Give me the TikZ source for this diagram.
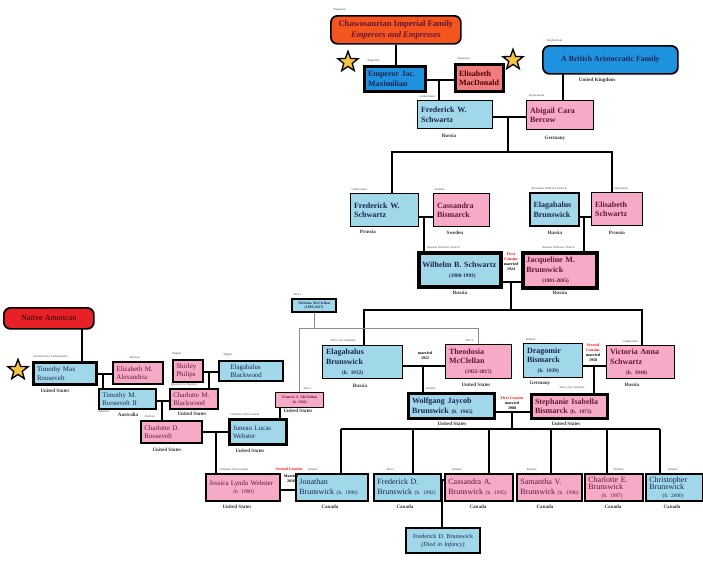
\documentclass[tikz,border=0pt]{standalone}
\usepackage{fontspec}
\setmainfont{Liberation Serif}
\usetikzlibrary{shapes.geometric}

\definecolor{kinblue}{RGB}{160,216,234}
\definecolor{kinpink}{RGB}{246,170,200}
\definecolor{royalblue}{RGB}{30,146,222}
\definecolor{royalred}{RGB}{240,125,125}
\definecolor{houseorange}{RGB}{244,84,30}
\definecolor{nativered}{RGB}{232,32,40}
\definecolor{stargold}{RGB}{246,196,66}
\definecolor{navytext}{RGB}{30,36,80}
\definecolor{maroontext}{RGB}{100,22,56}

\newcommand{\lifespan}[1]{{\fontsize{4}{5}\selectfont #1}}

\tikzset{every picture/.style={line width=0.75pt}}
\tikzset{
  boxsize/.style 2 args={minimum width=#1*0.75pt, minimum height=#2*0.75pt},
  person/.style 2 args={draw, anchor=north west, inner sep=0pt, inner xsep=2.5pt,
    boxsize={#1}{#2}, text width=#1*0.75pt-5pt, align=left, line width=1.1pt,
    font=\fontsize{6}{7.3}\selectfont\bfseries},
  he/.style={fill=kinblue, text=navytext},
  she/.style={fill=kinpink, text=maroontext},
  heavy/.style={line width=2.5pt},
  heaviest/.style={line width=3pt},
  lefty/.style={font=\fontsize{5.2}{6.3}\selectfont, line width=1.5pt},
  young/.style={font=\fontsize{6}{7.3}\selectfont, line width=1.6pt},
  house/.style={draw, rounded corners=5pt, anchor=north west, align=center, inner sep=0pt,
    line width=1.3pt, font=\fontsize{6.4}{7.8}\selectfont\bfseries},
  gold star/.style={star, star points=5, star point ratio=2.4, draw, line width=1pt,
    fill=stargold, minimum size=16pt, inner sep=0pt},
  link/.style={line width=1.5pt},
  kinline/.style={line width=0.6pt, black!45},
  faith/.style={anchor=south west, inner sep=0pt, font=\fontsize{2.3}{2.8}\selectfont, text=black!70},
  country/.style={inner sep=0pt, font=\fontsize{3.8}{4.5}\selectfont\bfseries, text=black!80},
  note/.style={inner sep=0pt, align=center, font=\fontsize{3}{3.8}\selectfont\bfseries}
}

\begin{document}
\begin{tikzpicture}[x=0.75pt,y=0.75pt,yscale=-1,xscale=1]
\useasboundingbox (0,0) rectangle (703,578);

%Shape: Rounded Rect [houses]
\node[house, fill=houseorange, boxsize={130}{28}, text=maroontext] (chaw) at (330,15) {Chawosaurian Imperial Family\\\textit{Emperors and Empresses}};
\node[house, fill=royalblue, boxsize={135}{28}, text=navytext, font=\fontsize{5.9}{7}\selectfont\bfseries] (brit) at (542,45) {A British Aristocratic Family};
\node[house, fill=nativered, boxsize={90}{21}, text=black!85!red, font=\fontsize{6}{7}\selectfont] (native) at (3,307) {Native American};

%Shape: Star
\node[gold star] (star1) at (348,62) {};
\node[gold star] (star2) at (513,60) {};
\node[gold star] (star3) at (18,370) {};

%Shape: Rectangle [generation 0 and 1]
\node[person={61}{25}, he, heavy, fill=royalblue] (emp) at (363,65) {Emperor~Jac.\\Maximilian};
\node[person={48}{27}, she, heavy, fill=royalred, text=black!70!red] (elim) at (454,63) {Elisabeth\\MacDonald};
\node[person={75}{28}, he] (fw1) at (417,100) {Frederick~W.\\Schwartz};
\node[person={67}{29}, she] (abi) at (526,100) {Abigail~Cara\\Bercow};

%Shape: Rectangle [generation 2]
\node[person={68}{33}, he] (fw2) at (350,193) {Frederick~W.\\Schwartz};
\node[person={56}{33}, she] (cas) at (433,193) {Cassandra\\Bismarck};
\node[person={49}{33}, he, line width=1.8pt] (ela1) at (529,192) {Elagabalus\\Brunswick};
\node[person={51}{33}, she] (es) at (591,192) {Elisabeth\\Schwartz};
\node[person={82}{34}, he, heaviest] (wil) at (417,251) {Wilhelm~B.~Schwartz\\\hspace*{20pt}\lifespan{(1900-1993)}};
\node[person={74}{35}, she, heaviest] (jac) at (521,251) {Jacqueline~M.\\Brunswick\\\hspace*{12pt}\lifespan{(1901-2005)}};

%Shape: Rectangle [generation 3]
\node[person={44}{13}, he, line width=1.6pt, align=center, font=\fontsize{2.8}{3.4}\selectfont\bfseries] (nic) at (291,298) {Nicholas~McClellan\\(1899-2017)};
\node[person={80}{33}, he] (ela2) at (322,345) {Elagabalus\\Brunswick\\\hspace*{12pt}\lifespan{(b.~1932)}};
\node[person={66}{34}, she] (theo) at (445,344) {Theodosia\\McClellan\\\hspace*{12pt}\lifespan{(1932-2017)}};
\node[person={59}{34}, he] (dra) at (523,343) {Dragomir\\Bismarck\\\hspace*{8pt}\lifespan{(b.~1939)}};
\node[person={68}{33}, she] (vic) at (606,345) {Victoria~Anna\\Schwartz\\\hspace*{12pt}\lifespan{(b.~1940)}};
\node[person={86}{25}, he, heavy] (wolf) at (407,392) {Wolfgang~Jaycob\\Brunswick~\lifespan{(b.~1965)}};
\node[person={76}{24}, she, heavy] (steph) at (530,393) {Stephanie~Isabella\\Bismarck~\lifespan{(b.~1973)}};
\node[person={48}{15}, she, align=center, font=\fontsize{2.8}{3.4}\selectfont\bfseries] (fra) at (275,392) {Frances~S.~McClellan\\(b.~1930)};

%Shape: Rectangle [left branch]
\node[person={63}{22}, he, lefty, heavy] (tim) at (32,361) {Timothy~Max\\Roosevelt};
\node[person={50}{22}, she, lefty] (eliz) at (112,361) {Elizabeth~M.\\Alexandria};
\node[person={57}{20}, he, lefty] (tim2) at (98,388) {Timothy~M.\\Roosevelt~II};
\node[person={30}{22}, she, lefty] (shi) at (172,359) {Shirley\\Philips};
\node[person={64}{20}, he, lefty] (ebw) at (218,360) {\hspace*{6pt}Elagabalus\\\hspace*{6pt}Blackwood};
\node[person={48}{20}, she, lefty] (chm) at (169,388) {Charlotte~M.\\Blackwood};
\node[person={61}{22}, she, lefty] (chd) at (140,420) {Charlotte~D.\\Roosevelt};
\node[person={57}{25}, he, lefty, heavy] (jun) at (228,418) {Juneau~Lucas\\Webster};
\node[person={74}{27}, she, lefty] (jes) at (205,473) {Jessica~Lynda~Webster\\\hspace*{18pt}\lifespan{(b.~1990)}};

%Shape: Rectangle [generation 4]
\node[person={72}{27}, he, young] (jon) at (295,473) {Jonathan\\Brunswick~\lifespan{(b.~1990)}};
\node[person={67}{27}, he, young] (fd) at (373,473) {Frederick~D.\\Brunswick~\lifespan{(b.~1992)}};
\node[person={68}{27}, she, young] (cas2) at (444,473) {Cassandra~A.\\Brunswick~\lifespan{(b.~1995)}};
\node[person={65}{27}, she, young] (sam) at (516,473) {Samantha~V.\\Brunswick~\lifespan{(b.~1996)}};
\node[person={58}{27}, she, young, font=\fontsize{6}{5.8}\selectfont] (cha) at (584,473) {Charlotte~E.\\Brunswick\\\hspace*{10pt}\lifespan{(b.~1997)}};
\node[person={57}{27}, he, young, font=\fontsize{6}{5.8}\selectfont] (chr) at (645,473) {Christopher\\Brunswick\\\hspace*{10pt}\lifespan{(b.~2000)}};
\node[person={74}{25}, he, young, align=center, font=\fontsize{4.6}{6}\selectfont] (fdi) at (405,527) {Frederick~D.~Brunswick\\\textit{(Died~in~Infancy)}};

%Straight Lines [top]
\draw[link] (chaw.south) -- (chaw.south |- emp.north);
\coordinate (m0) at (439,80);
\draw[link] (emp.east |- m0) -- (elim.west |- m0);
\draw[link] (m0) -- (m0 |- fw1.north);
\coordinate (britdrop) at (563,73);
\draw[link] (britdrop) -- (britdrop |- abi.north);
\coordinate (m1) at (508,117);
\draw[link] (fw1.east |- m1) -- (abi.west |- m1);
\coordinate (bar1l) at (392,152);
\coordinate (bar1r) at (612,152);
\draw[link] (m1) -- (m1 |- bar1l);
\draw[link] (bar1l |- fw2.north) -- (bar1l) -- (bar1r) -- (bar1r |- es.north);

%Straight Lines [generation 2]
\coordinate (m2) at (424,217);
\draw[link] (fw2.east |- m2) -- (cas.west |- m2);
\draw[link] (m2) -- (m2 |- wil.north);
\coordinate (m3) at (584,217);
\draw[link] (ela1.east |- m3) -- (es.west |- m3);
\draw[link] (m3) -- (m3 |- jac.north);
\coordinate (m4) at (511,282);
\coordinate (bar2l) at (364,310);
\coordinate (bar2r) at (642,310);
\draw[link] (wil.east |- m4) -- (jac.west |- m4);
\draw[link] (m4) -- (m4 |- bar2l);
\draw[link] (bar2l |- ela2.north) -- (bar2l) -- (bar2r) -- (bar2r |- vic.north);

%Straight Lines [McClellan]
\coordinate (gl) at (299,328);
\coordinate (gr) at (478,328);
\draw[kinline] (nic.south) -- (nic.south |- gl);
\draw[kinline] (gl |- fra.north) -- (gl) -- (gr) -- (gr |- theo.north);

%Straight Lines [generation 3]
\coordinate (m5) at (423,366);
\draw[link] (ela2.east |- m5) -- (theo.west |- m5);
\draw[link] (m5) -- (m5 |- wolf.north);
\coordinate (m6) at (594,366);
\draw[link] (dra.east |- m6) -- (vic.west |- m6);
\draw[link] (m6) -- (m6 |- steph.north);
\coordinate (m7) at (512,412);
\coordinate (bar3l) at (341,429);
\coordinate (bar3r) at (660,429);
\draw[link] (wolf.east |- m7) -- (steph.west |- m7);
\draw[link] (m7) -- (m7 |- bar3l);
\draw[link] (bar3l) -- (bar3r);
\foreach \x/\n in {341/jon,413/fd,489/cas2,551/sam,607/cha,660/chr}
  \draw[link] (\x,429) -- (\x,429 |- \n.north);
\coordinate (m8) at (442,480);
\draw[link] (fd.east |- m8) -- (cas2.west |- m8);
\draw[link] (m8) -- (m8 |- fdi.north);

%Straight Lines [left branch]
\coordinate (natdrop) at (82,328);
\draw[link] (natdrop) -- (natdrop |- tim.north);
\coordinate (m9) at (103,374);
\draw[link] (tim.east |- m9) -- (eliz.west |- m9);
\draw[link] (m9) -- (m9 |- tim2.north);
\coordinate (m10) at (209,372);
\draw[link] (shi.east |- m10) -- (ebw.west |- m10);
\draw[link] (m10) -- (m10 |- chm.north);
\coordinate (m11) at (162,401);
\draw[link] (tim2.east |- m11) -- (chm.west |- m11);
\draw[link] (m11) -- (m11 |- chd.north);
\coordinate (fradrop) at (280,407);
\draw[link] (fradrop) -- (fradrop |- jun.north);
\coordinate (m12) at (216,432);
\draw[link] (chd.east |- m12) -- (jun.west |- m12);
\draw[link] (m12) -- (m12 |- jes.north);
\coordinate (m13) at (287,490);
\draw[link] (jes.east |- m13) -- (jon.west |- m13);

% Text Node [faiths]
\foreach \x/\y/\t [count=\i] in {333/12/Paganism, 367/63/Paganism, 457/61/Paganism,
  419/98/Lutheranism, 528/98/Anglicanism, 546/43/Anglicanism,
  351/191/Lutheranism, 434/191/Judaism, 531/190/Romanian Orthodox Church, 612/190/Lutheranism,
  427/249/Russian Orthodox Church, 542/249/Russian Orthodox Church,
  293/296/Wicca, 330/343/Wicca (for Judaism), 465/342/Wicca, 425/390/Judaism,
  525/341/Judaism, 622/343/Lutheranism, 559/390/Wicca (for Judaism), 303/390/Wicca,
  33/359/Animism (for Lutheranism), 129/359/Atheism, 98/413/Atheism, 172/356/Baptist,
  223/357/Baptist, 170/387/Atheism (for Baptist), 144/418/Atheism,
  230/416/Unitarian Universalism, 219/471/Unitarian Universalism,
  307/471/Judaism, 386/471/Wicca, 451/471/Judaism, 526/471/Judaism, 613/471/Judaism, 667/471/Judaism}
  \node[faith] (faith\i) at (\x,\y) {\t};

% Text Node [countries]
\foreach \x/\y/\t [count=\i] in {449/136/Russia, 555/138/Germany, 597/80/United Kingdom,
  368/232/Prussia, 455/233/Sweden, 555/233/Russia, 617/233/Prussia,
  460/293/Russia, 560/293/Russia,
  360/386/Russia, 476/385/United States, 540/383/Germany, 632/385/Russia,
  452/424/United States, 566/424/United States, 298/411/United States,
  55/391/United States, 128/415/Australia, 192/414/United States,
  167/450/United States, 250/451/United States, 237/507/United States,
  330/507/Canada, 405/507/Canada, 478/507/Canada, 545/507/Canada, 613/507/Canada, 672/507/Canada}
  \node[country] (land\i) at (\x,\y) {\t};

% Text Node [marriages]
\node[note] (wed1) at (511,262) {\textcolor{red}{First}\\\textcolor{red}{Cousins}\\married\\1924};
\node[note] (wed2) at (425,356) {married\\1952};
\node[note] (wed3) at (593,353) {\textcolor{red}{Second}\\\textcolor{red}{Cousins}\\married\\1958};
\node[note] (wed4) at (512,403) {\textcolor{red}{First Cousins}\\married\\1988};
\node[note] (wed5) at (289,469) {\textcolor{red}{Second Cousins}};
\node[note] (wed6) at (291,479) {Married\\2016};

\end{tikzpicture}
\end{document}
